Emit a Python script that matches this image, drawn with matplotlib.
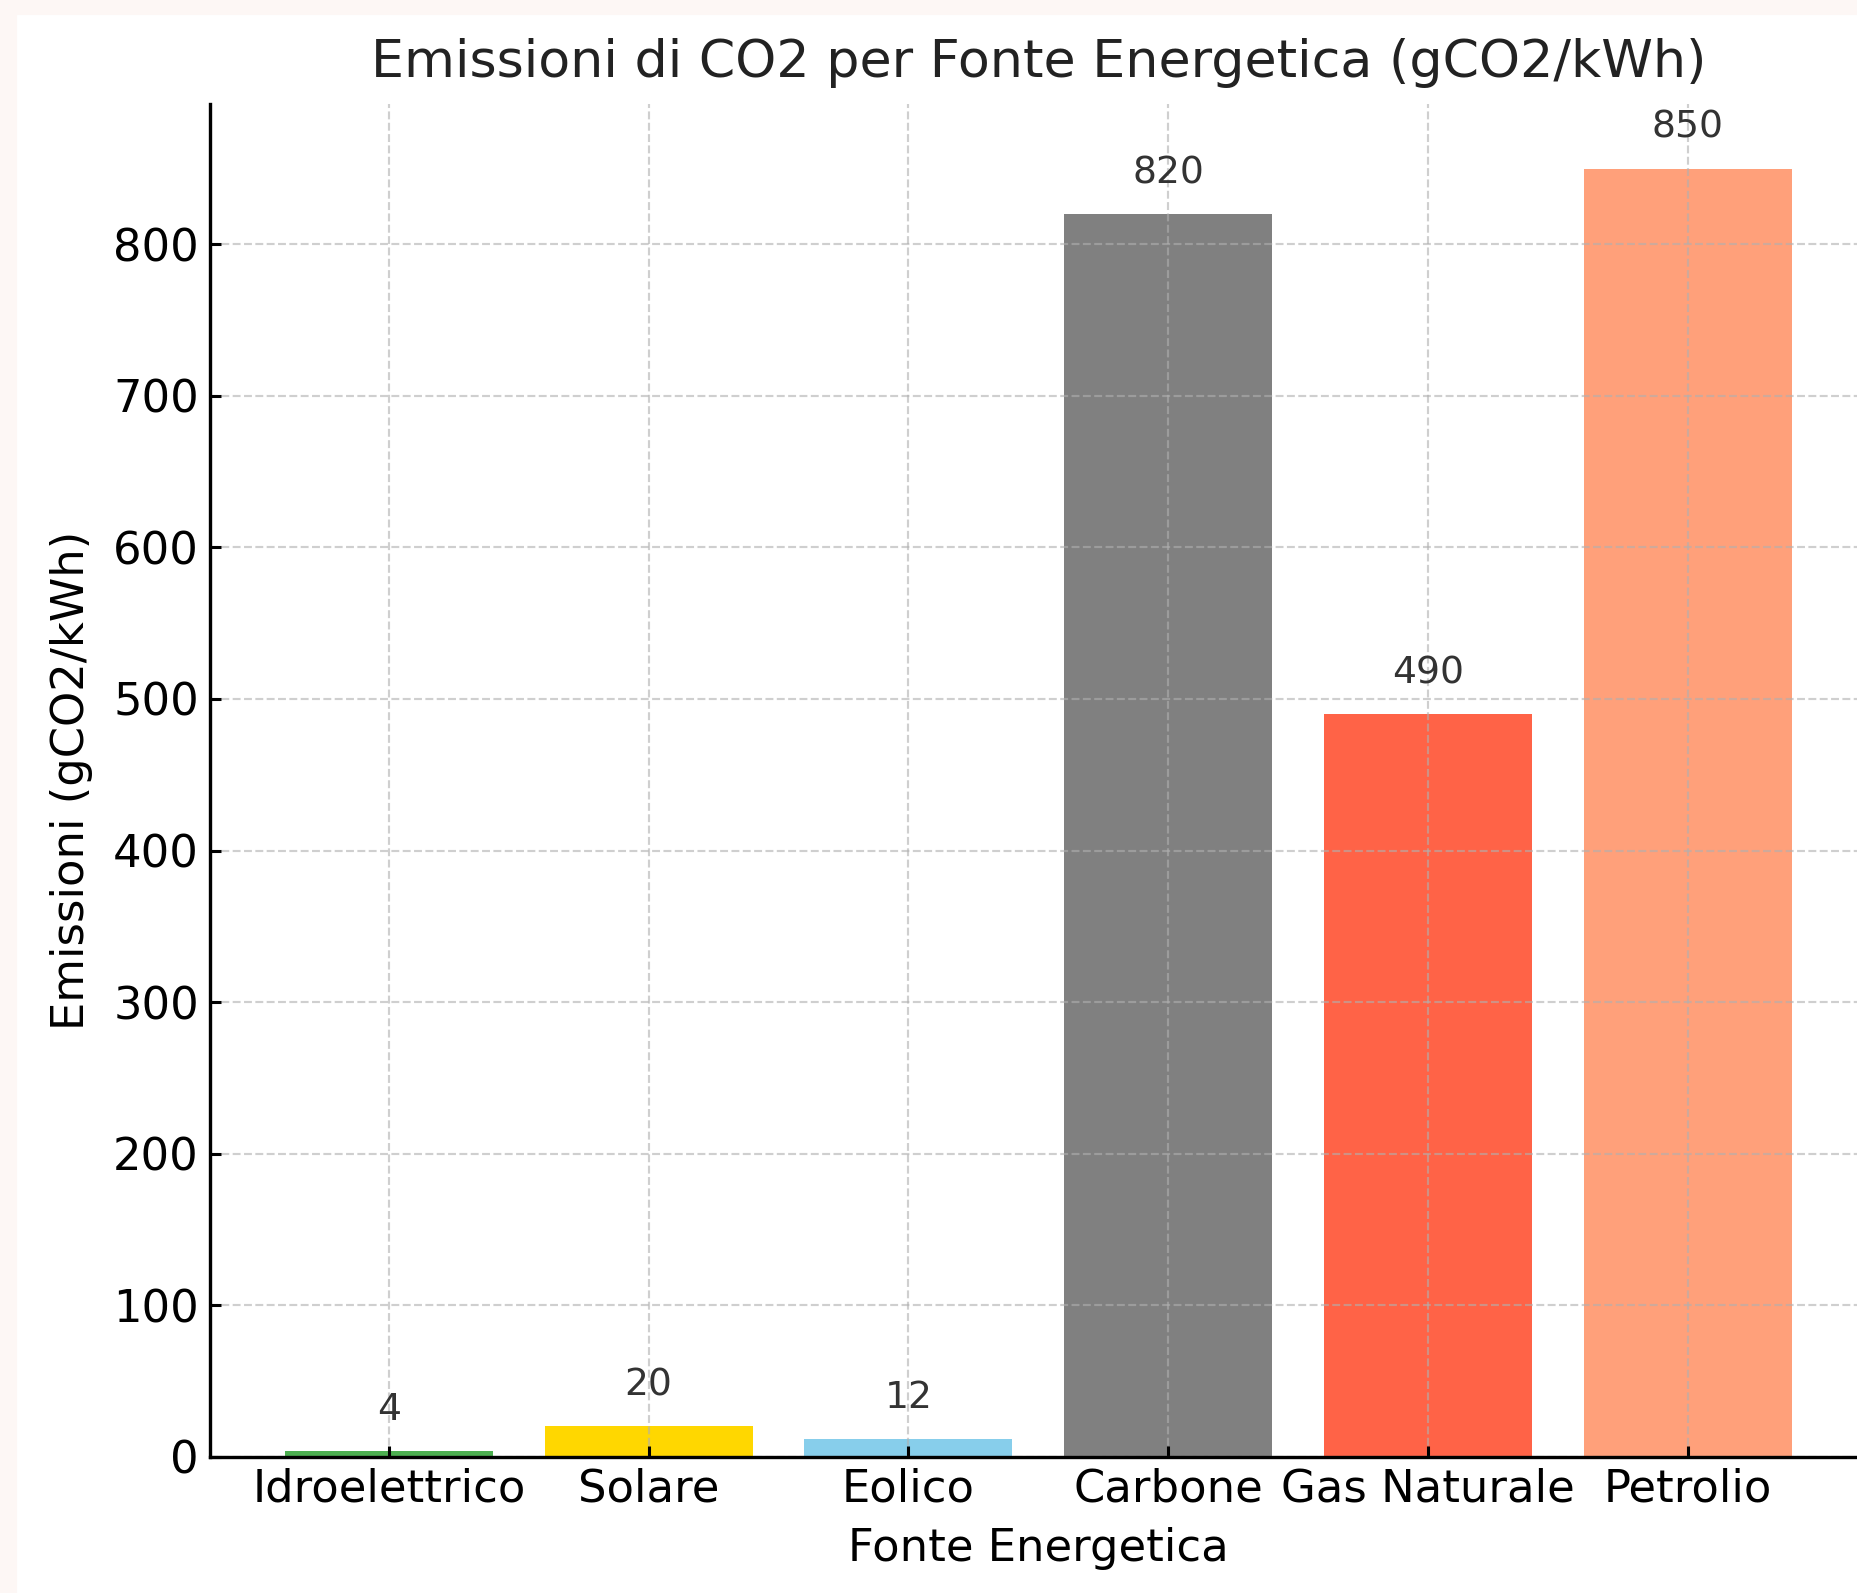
import matplotlib
matplotlib.use("Agg")
import matplotlib.pyplot as plt
import matplotlib.patches as mpatches

fonti = ["Idroelettrico", "Solare", "Eolico", "Carbone", "Gas Naturale", "Petrolio"]
emissioni = [4, 20, 12, 820, 490, 850]
colori = ["#4caf50", "#ffd700", "#87ceeb", "#808080", "#ff6347", "#ffa07a"]

DPI = 220
W, H = 1857, 1593

fig = plt.figure(figsize=(W / DPI, H / DPI), dpi=DPI)
fig.patch.set_facecolor("white")
# pale border strips along top and left edge (screenshot margin)
fig.patches.append(mpatches.Rectangle((0, 1 - 13 / H), 1, 13 / H, transform=fig.transFigure,
                                      color="#fdf7f5", zorder=0))
fig.patches.append(mpatches.Rectangle((0, 0), 15 / W, 1, transform=fig.transFigure,
                                      color="#fdf7f5", zorder=0))

ax = fig.add_axes([209.6 / W, (H - 1456.7) / H, (1867 - 209.6) / W, (1456.7 - 104.2) / H])

bars = ax.bar(fonti, emissioni, color=colori, width=0.8)
for i, v in enumerate(emissioni):
    ax.text(i, v + 15, str(v), ha="center", va="bottom", fontsize=12.3, color="#333333")

ax.set_title("Emissioni di CO2 per Fonte Energetica (gCO2/kWh)", fontsize=17.1,
             color="#222222", pad=9)
ax.set_xlabel("Fonte Energetica", fontsize=14.7, labelpad=5.5)
ax.set_ylabel("Emissioni (gCO2/kWh)", fontsize=14.7, labelpad=6.5)
ax.tick_params(axis="both", labelsize=14.7, direction="in", length=3.5, width=1)
ax.grid(True, linestyle="--", linewidth=0.7, alpha=0.6)
for s in ["top", "right"]:
    ax.spines[s].set_visible(False)
for s in ["left", "bottom"]:
    ax.spines[s].set_linewidth(1.1)

fig.savefig("out.png", dpi=DPI)
